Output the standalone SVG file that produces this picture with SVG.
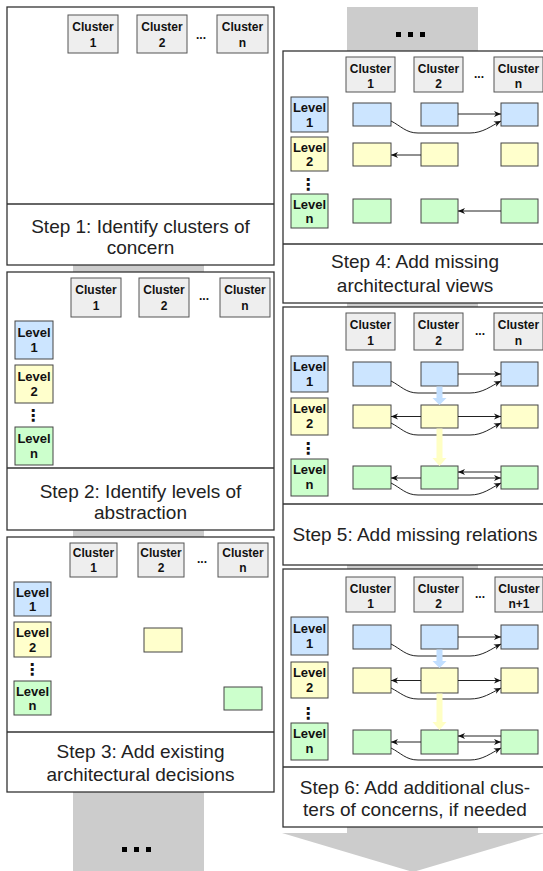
<svg xmlns="http://www.w3.org/2000/svg" width="543" height="871" viewBox="0 0 543 871">
<style>
.bg{fill:#cccccc}
.dot{fill:#000}
.panel{fill:#fff;stroke:#333;stroke-width:1.3}
.div{stroke:#333;stroke-width:1.3}
.cl{fill:#eeeeee;stroke:#555;stroke-width:1}
.l1{fill:#cce5ff;stroke:#444;stroke-width:1}
.l2{fill:#ffffcc;stroke:#444;stroke-width:1}
.ln{fill:#ccffcc;stroke:#444;stroke-width:1}
.bt{font-family:"Liberation Sans",Arial,sans-serif;font-weight:bold;font-size:12px;text-anchor:middle;fill:#111}
.lt{font-family:"Liberation Sans",Arial,sans-serif;font-weight:bold;font-size:13px;text-anchor:middle;fill:#111}
.vd{font-family:"DejaVu Sans",sans-serif;font-weight:bold;font-size:16px;text-anchor:middle;fill:#111}
.cap{font-family:"Liberation Sans",Arial,sans-serif;font-size:19px;text-anchor:middle;fill:#222}
.e{fill:none;stroke:#222;stroke-width:1;marker-end:url(#ah)}
.tb{fill:#c2dfff}
.ty{fill:#ffffc4}
</style>
<defs>
<marker id="ah" markerUnits="userSpaceOnUse" markerWidth="8" markerHeight="7" refX="7" refY="3.5" orient="auto">
<path d="M0,0.5 L7,3.5 L0,6.5 L2,3.5 z" fill="#111"/>
</marker>
</defs>

<!-- background flow arrows -->
<g id="flow">
<rect class="bg" x="73" y="265" width="131" height="606"/>
<rect class="dot" x="122" y="847" width="5" height="5"/>
<rect class="dot" x="134" y="847" width="5" height="5"/>
<rect class="dot" x="146" y="847" width="5" height="5"/>
<rect class="bg" x="347" y="7" width="131" height="827"/>
<rect class="dot" x="396" y="32" width="5" height="5"/>
<rect class="dot" x="408" y="32" width="5" height="5"/>
<rect class="dot" x="420" y="32" width="5" height="5"/>
<polygon class="bg" points="282,833 545,833 413,872"/>
</g>

<!-- Step 1 -->
<g id="step1">
<rect class="panel" x="7" y="7" width="267" height="258"/>
<line class="div" x1="7" y1="204" x2="274" y2="204"/>
<rect class="cl" x="68" y="15" width="50" height="38"/>
<text class="bt" x="93" y="31">Cluster</text><text class="bt" x="93" y="47">1</text>
<rect class="cl" x="137" y="15" width="50" height="38"/>
<text class="bt" x="162" y="31">Cluster</text><text class="bt" x="162" y="47">2</text>
<text class="bt" x="201" y="39">...</text>
<rect class="cl" x="217" y="15" width="51" height="38"/>
<text class="bt" x="242.5" y="31">Cluster</text><text class="bt" x="242.5" y="47">n</text>
<text class="cap" x="140.5" y="233">Step 1: Identify clusters of</text>
<text class="cap" x="140.5" y="254">concern</text>
</g>

<!-- Step 2 -->
<g id="step2">
<rect class="panel" x="7" y="272" width="267" height="258"/>
<line class="div" x1="7" y1="468" x2="274" y2="468"/>
<rect class="cl" x="71" y="278" width="50" height="39"/>
<text class="bt" x="96" y="294">Cluster</text><text class="bt" x="96" y="310">1</text>
<rect class="cl" x="139" y="278" width="50" height="39"/>
<text class="bt" x="164" y="294">Cluster</text><text class="bt" x="164" y="310">2</text>
<text class="bt" x="204" y="300">...</text>
<rect class="cl" x="220" y="278" width="50" height="39"/>
<text class="bt" x="245" y="294">Cluster</text><text class="bt" x="245" y="310">n</text>
<rect class="l1" x="15" y="321" width="38" height="38"/>
<text class="lt" x="34" y="337">Level</text><text class="lt" x="34" y="352">1</text>
<rect class="l2" x="15" y="365" width="38" height="38"/>
<text class="lt" x="34" y="381">Level</text><text class="lt" x="34" y="396">2</text>
<text class="vd" x="33" y="421">⋮</text>
<rect class="ln" x="15" y="427" width="38" height="38"/>
<text class="lt" x="34" y="443">Level</text><text class="lt" x="34" y="458">n</text>
<text class="cap" x="140.5" y="498">Step 2: Identify levels of</text>
<text class="cap" x="140.5" y="519">abstraction</text>
</g>

<!-- Step 3 -->
<g id="step3">
<rect class="panel" x="7" y="537" width="267" height="255"/>
<line class="div" x1="7" y1="732" x2="274" y2="732"/>
<rect class="cl" x="70" y="543" width="47" height="34"/>
<text class="bt" x="93.5" y="557">Cluster</text><text class="bt" x="93.5" y="572">1</text>
<rect class="cl" x="138" y="543" width="46" height="34"/>
<text class="bt" x="161" y="557">Cluster</text><text class="bt" x="161" y="572">2</text>
<text class="bt" x="202" y="563">...</text>
<rect class="cl" x="218" y="543" width="50" height="34"/>
<text class="bt" x="243" y="557">Cluster</text><text class="bt" x="243" y="572">n</text>
<rect class="l1" x="14" y="582" width="37" height="34"/>
<text class="lt" x="32.5" y="597">Level</text><text class="lt" x="32.5" y="611">1</text>
<rect class="l2" x="14" y="622" width="37" height="35"/>
<text class="lt" x="32.5" y="637">Level</text><text class="lt" x="32.5" y="652">2</text>
<text class="vd" x="32" y="675">⋮</text>
<rect class="ln" x="14" y="681" width="37" height="34"/>
<text class="lt" x="32.5" y="696">Level</text><text class="lt" x="32.5" y="710">n</text>
<rect class="l2" x="144" y="628" width="38" height="24"/>
<rect class="ln" x="224" y="687" width="38" height="23"/>
<text class="cap" x="140.5" y="758">Step 3: Add existing</text>
<text class="cap" x="140.5" y="781">architectural decisions</text>
</g>

<!-- Step 4 -->
<g id="step4">
<rect class="panel" x="283" y="51" width="263" height="252"/>
<line class="div" x1="283" y1="244" x2="546" y2="244"/>
<rect class="cl" x="346" y="57" width="49" height="35"/>
<text class="bt" x="370.5" y="73">Cluster</text><text class="bt" x="370.5" y="88">1</text>
<rect class="cl" x="414" y="57" width="49" height="35"/>
<text class="bt" x="438.5" y="73">Cluster</text><text class="bt" x="438.5" y="88">2</text>
<text class="bt" x="479" y="78">...</text>
<rect class="cl" x="494" y="57" width="49" height="35"/>
<text class="bt" x="518.5" y="73">Cluster</text><text class="bt" x="518.5" y="88">n</text>
<rect class="l1" x="291" y="97" width="37" height="35"/>
<text class="lt" x="309.5" y="112">Level</text><text class="lt" x="309.5" y="127">1</text>
<rect class="l2" x="291" y="137" width="37" height="34"/>
<text class="lt" x="309.5" y="152">Level</text><text class="lt" x="309.5" y="166">2</text>
<text class="vd" x="308" y="190">⋮</text>
<rect class="ln" x="291" y="194" width="37" height="34"/>
<text class="lt" x="309.5" y="209">Level</text><text class="lt" x="309.5" y="223">n</text>
<rect class="l1" x="353" y="103" width="38" height="23"/>
<rect class="l1" x="421" y="103" width="37" height="23"/>
<rect class="l1" x="501" y="103" width="37" height="23"/>
<rect class="l2" x="353" y="143" width="38" height="23"/>
<rect class="l2" x="421" y="143" width="37" height="23"/>
<rect class="l2" x="501" y="143" width="37" height="23"/>
<rect class="ln" x="353" y="199" width="38" height="24"/>
<rect class="ln" x="421" y="199" width="37" height="24"/>
<rect class="ln" x="501" y="199" width="37" height="24"/>
<text class="cap" x="415" y="268">Step 4: Add missing</text>
<text class="cap" x="415" y="292">architectural views</text>
</g>

<!-- Step 5 -->
<g id="step5">
<rect class="panel" x="283" y="307" width="263" height="258"/>
<line class="div" x1="283" y1="504" x2="546" y2="504"/>
<rect class="cl" x="346" y="313" width="49" height="37"/>
<text class="bt" x="370.5" y="329">Cluster</text><text class="bt" x="370.5" y="345">1</text>
<rect class="cl" x="414" y="313" width="49" height="37"/>
<text class="bt" x="438.5" y="329">Cluster</text><text class="bt" x="438.5" y="345">2</text>
<text class="bt" x="480" y="335">...</text>
<rect class="cl" x="494" y="313" width="49" height="37"/>
<text class="bt" x="518.5" y="329">Cluster</text><text class="bt" x="518.5" y="345">n</text>
<rect class="l1" x="291" y="356" width="37" height="36"/>
<text class="lt" x="309.5" y="371">Level</text><text class="lt" x="309.5" y="386">1</text>
<rect class="l2" x="291" y="398" width="37" height="37"/>
<text class="lt" x="309.5" y="413">Level</text><text class="lt" x="309.5" y="428">2</text>
<text class="vd" x="308" y="454">⋮</text>
<rect class="ln" x="291" y="459" width="37" height="37"/>
<text class="lt" x="309.5" y="474">Level</text><text class="lt" x="309.5" y="489">n</text>
<rect class="l1" x="353" y="362" width="38" height="24"/>
<rect class="l1" x="421" y="362" width="37" height="24"/>
<rect class="l1" x="501" y="362" width="37" height="24"/>
<rect class="l2" x="353" y="405" width="38" height="23"/>
<rect class="l2" x="421" y="405" width="37" height="23"/>
<rect class="l2" x="501" y="405" width="37" height="23"/>
<rect class="ln" x="353" y="466" width="38" height="23"/>
<rect class="ln" x="421" y="466" width="37" height="23"/>
<rect class="ln" x="501" y="466" width="37" height="23"/>
<text class="cap" x="415" y="541">Step 5: Add missing relations</text>
</g>

<!-- Step 6 -->
<g id="step6">
<rect class="panel" x="283" y="569" width="263" height="258"/>
<line class="div" x1="283" y1="767" x2="546" y2="767"/>
<rect class="cl" x="346" y="577" width="49" height="35"/>
<text class="bt" x="370.5" y="593">Cluster</text><text class="bt" x="370.5" y="608">1</text>
<rect class="cl" x="414" y="577" width="49" height="35"/>
<text class="bt" x="438.5" y="593">Cluster</text><text class="bt" x="438.5" y="608">2</text>
<text class="bt" x="480" y="598">...</text>
<rect class="cl" x="495" y="577" width="48" height="35"/>
<text class="bt" x="519" y="593">Cluster</text><text class="bt" x="519" y="608">n+1</text>
<rect class="l1" x="291" y="617" width="37" height="38"/>
<text class="lt" x="309.5" y="633">Level</text><text class="lt" x="309.5" y="648">1</text>
<rect class="l2" x="291" y="662" width="37" height="36"/>
<text class="lt" x="309.5" y="677">Level</text><text class="lt" x="309.5" y="692">2</text>
<text class="vd" x="308" y="719">⋮</text>
<rect class="ln" x="291" y="723" width="37" height="37"/>
<text class="lt" x="309.5" y="738">Level</text><text class="lt" x="309.5" y="753">n</text>
<rect class="l1" x="353" y="625" width="38" height="24"/>
<rect class="l1" x="421" y="625" width="37" height="24"/>
<rect class="l1" x="501" y="625" width="37" height="24"/>
<rect class="l2" x="353" y="668" width="38" height="25"/>
<rect class="l2" x="421" y="668" width="37" height="25"/>
<rect class="l2" x="501" y="668" width="37" height="25"/>
<rect class="ln" x="353" y="730" width="38" height="24"/>
<rect class="ln" x="421" y="730" width="37" height="24"/>
<rect class="ln" x="501" y="730" width="37" height="24"/>
<text class="cap" x="415" y="794">Step 6: Add additional clus-</text>
<text class="cap" x="415" y="816">ters of concerns, if needed</text>
</g>

<!-- connectors -->
<g id="connectors">
<!-- step 4 -->
<path class="e" d="M458,114 L501,114"/>
<path class="e" d="M391,121 C401,126 406,133 418,133 L470,133 C483,133 491,126 501,121"/>
<path class="e" d="M421,155 L391,155"/>
<path class="e" d="M501,211 L458,211"/>
<!-- step 5 -->
<path class="e" d="M458,374 L501,374"/>
<path class="e" d="M391,381 C401,386 406,393 418,393 L470,393 C483,393 491,386 501,381"/>
<path class="tb" d="M436.5,386.5 H442.5 V398 H446.5 L439.5,405 L432.5,398 H436.5 Z"/>
<path class="e" d="M421,416.5 L391,416.5"/>
<path class="e" d="M458,416.5 L501,416.5"/>
<path class="e" d="M391,423 C401,428 406,435 418,435 L470,435 C483,435 491,428 501,423"/>
<path class="ty" d="M436.5,428.5 H442.5 V458 H446.5 L439.5,466 L432.5,458 H436.5 Z"/>
<path class="e" d="M421,478 L391,478"/>
<path class="e" d="M501,472 L458,472"/>
<path class="e" d="M458,478 L501,478"/>
<path class="e" d="M391,483 C401,488 406,495 418,495 L470,495 C483,495 491,488 501,483"/>
<!-- step 6 -->
<path class="e" d="M458,637 L501,637"/>
<path class="e" d="M391,644 C401,649 406,656 418,656 L470,656 C483,656 491,649 501,644"/>
<path class="tb" d="M436.5,649.5 H442.5 V661 H446.5 L439.5,668 L432.5,661 H436.5 Z"/>
<path class="e" d="M421,680.5 L391,680.5"/>
<path class="e" d="M458,680.5 L501,680.5"/>
<path class="e" d="M391,688 C401,693 406,699 418,699 L470,699 C483,699 491,693 501,688"/>
<path class="ty" d="M436.5,693.5 H442.5 V722 H446.5 L439.5,730 L432.5,722 H436.5 Z"/>
<path class="e" d="M421,742 L391,742"/>
<path class="e" d="M501,736 L458,736"/>
<path class="e" d="M458,742 L501,742"/>
<path class="e" d="M391,748 C401,753 406,760 418,760 L470,760 C483,760 491,753 501,748"/>
</g>
</svg>
